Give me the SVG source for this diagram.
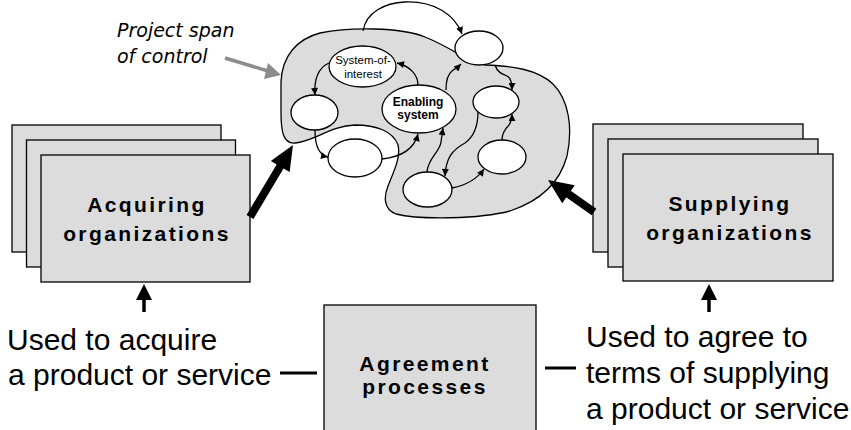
<svg xmlns="http://www.w3.org/2000/svg" width="851" height="430" viewBox="0 0 851 430">
<defs>
<style>
.box{fill:#dcdcdc;stroke:#000;stroke-width:1.3}
.blob{fill:#dcdcdc;stroke:#000;stroke-width:1.3}
.node{fill:#fff;stroke:#000;stroke-width:1.3}
.lnk{fill:none;stroke:#000;stroke-width:1.3;marker-end:url(#ah)}
.big{font-family:"Liberation Sans",Arial,sans-serif;font-weight:bold;font-size:21px;letter-spacing:2.4px;text-anchor:middle;fill:#000}
.small{font-family:"Liberation Sans",Arial,sans-serif;font-size:11.5px;text-anchor:middle;fill:#000}
.smallb{font-family:"Liberation Sans",Arial,sans-serif;font-size:12px;font-weight:bold;text-anchor:middle;fill:#000}
.note{font-family:"Liberation Sans",Arial,sans-serif;font-size:30px;fill:#000}
.ital{font-family:"DejaVu Sans",Verdana,sans-serif;font-style:italic;font-size:19px;fill:#000}
</style>
<marker id="ah" viewBox="0 0 10 10" refX="10" refY="5" markerWidth="9" markerHeight="7" markerUnits="userSpaceOnUse" orient="auto"><path d="M0,0 L10,5 L0,10 z" fill="#000"/></marker>
</defs>

<g id="span-of-control">
<path class="blob" d="M485,65 C512,66 537,69 553,84 C569,100 573,128 567,156 C560,182 540,201 510,211 C480,219 420,220 396,214 C383,209 384,196 388,186 C394,171 401,157 398,145 C393,131 376,125 355,125 C330,126 315,141 295,143 C283,144 281,131 281,112 L281,82 C282,56 297,39 320,33 C350,27 400,27 425,37 C440,43 450,49 462,56 Z"/>
<text class="ital" x="117" y="37">Project span</text>
<text class="ital" x="117" y="63">of control</text>
</g>

<g id="node-soi"><ellipse class="node" cx="362.5" cy="66.5" rx="33.5" ry="20.5"/><text class="small" x="363" y="64">System-of-</text><text class="small" x="363" y="77.5">interest</text></g>
<g id="node-enabling"><ellipse class="node" cx="419" cy="109" rx="37" ry="24"/><text class="smallb" x="418" y="106">Enabling</text><text class="smallb" x="418" y="119">system</text></g>
<g id="node-top"><ellipse class="node" cx="479" cy="48" rx="24" ry="17"/></g>
<g id="node-left"><ellipse class="node" cx="314.5" cy="112.5" rx="23.5" ry="17.5"/></g>
<g id="node-bottomleft"><ellipse class="node" cx="355" cy="158" rx="27" ry="19"/></g>
<g id="node-rightupper"><ellipse class="node" cx="496" cy="102" rx="23" ry="16"/></g>
<g id="node-rightlower"><ellipse class="node" cx="502" cy="157" rx="24" ry="17"/></g>
<g id="node-bottom"><ellipse class="node" cx="427.5" cy="189.5" rx="24.5" ry="17.5"/></g>

<g id="acquiring">
<rect class="box" x="12" y="125" width="209" height="127"/>
<rect class="box" x="26.5" y="140" width="209" height="127"/>
<rect class="box" x="41" y="155" width="209" height="127"/>
<text class="big" x="147" y="212">Acquiring</text>
<text class="big" x="147" y="241">organizations</text>
</g>

<g id="supplying">
<rect class="box" x="593" y="124" width="210" height="128"/>
<rect class="box" x="608" y="139" width="210" height="128"/>
<rect class="box" x="623" y="154" width="210" height="127"/>
<text class="big" x="730" y="211">Supplying</text>
<text class="big" x="730" y="240">organizations</text>
</g>

<g id="agreement">
<rect class="box" x="324" y="305" width="212" height="135"/>
<text class="big" x="425" y="371">Agreement</text>
<text class="big" x="425" y="394">processes</text>
</g>

<g id="note-left">
<text class="note" x="7" y="350">Used to acquire</text>
<text class="note" x="8" y="385">a product or service</text>
</g>
<g id="note-right">
<text class="note" x="586" y="347">Used to agree to</text>
<text class="note" x="586" y="383">terms of supplying</text>
<text class="note" x="586" y="419">a product or service</text>
</g>

<g id="connectors">
<path class="lnk" d="M363,31 C366,12 385,3 405,2 C435,1 455,15 462,34"/>
<path class="lnk" d="M329,63 C318,68 314,80 315,95"/>
<path class="lnk" d="M418,85 C418,75 410,66 397,63"/>
<path class="lnk" d="M315,130 C315,145 318,155 328,157"/>
<path class="lnk" d="M382,159 C400,157 414,150 418,134"/>
<path class="lnk" d="M427,172 C428,158 440,152 441,142 L443,128"/>
<path class="lnk" d="M446,90 C446,80 448,74 452,71 C456,68 458,67 461,64"/>
<path class="lnk" d="M478,112 C478,122 476,135 465,143 C452,150 446,158 445,176"/>
<path class="lnk" d="M495,65 C497,72 502,74 507,76 C511,78 512,82 512,90"/>
<path class="lnk" d="M452,188 C462,186 475,182 484,169"/>
<path class="lnk" d="M502,140 C502,132 506,128 509,125 C511,122 512,120 512,114"/>
<line x1="225" y1="58" x2="268" y2="71" stroke="#8c8c8c" stroke-width="3.5"/>
<polygon points="281,75 264,79 268,63" fill="#8c8c8c"/>
<line x1="250" y1="217" x2="281" y2="165" stroke="#000" stroke-width="8"/>
<polygon points="293,145 289.6,172.1 270.8,160.9" fill="#000"/>
<line x1="594" y1="212" x2="567" y2="193" stroke="#000" stroke-width="8"/>
<polygon points="548,180 574.8,185.3 562.2,203.3" fill="#000"/>
<line x1="144" y1="312" x2="144" y2="298" stroke="#000" stroke-width="3.5"/>
<polygon points="144,284 152,300 136,300" fill="#000"/>
<line x1="709" y1="312" x2="709" y2="298" stroke="#000" stroke-width="3.5"/>
<polygon points="709,284 717,300 701,300" fill="#000"/>
<line x1="280" y1="373" x2="317" y2="373" stroke="#000" stroke-width="3"/>
<line x1="545" y1="368" x2="576" y2="368" stroke="#000" stroke-width="3"/>
</g>
</svg>
